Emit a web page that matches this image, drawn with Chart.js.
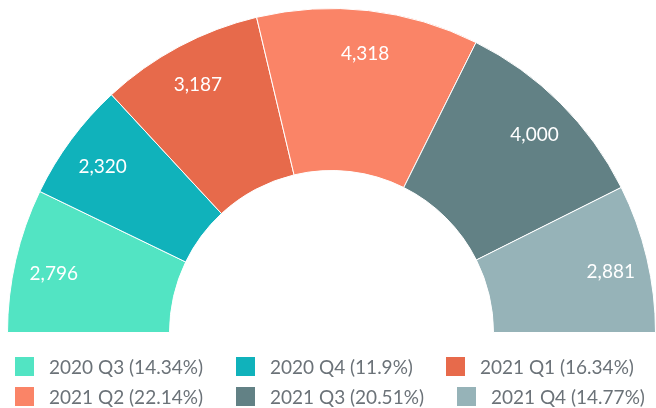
<!DOCTYPE html>
<html>
<head>
<meta charset="utf-8">
<script src="https://cdn.jsdelivr.net/npm/chart.js@4/dist/chart.umd.min.js"></script>
<style>
  html, body { margin: 0; padding: 0; background: #fff; }
  #wrap { position: relative; width: 656px; height: 408px; }
  #legend { position: absolute; left: 15px; top: 351px; width: 656px; font-family: Lato, sans-serif; font-size: 19px; color: #6b7278; }
  .row { display: flex; height: 30px; align-items: center; white-space: nowrap; }
  .item { display: inline-flex; align-items: center; margin-right: 33px; }
  .box { width: 19px; height: 19px; margin-right: 15px; flex: none; }
</style>
</head>
<body>
<div id="wrap">
  <canvas id="c" width="656" height="408"></canvas>
  <div id="legend"></div>
</div>
<script>
const categories = ['2020 Q3', '2020 Q4', '2021 Q1', '2021 Q2', '2021 Q3', '2021 Q4'];
const values = [2796, 2320, 3187, 4318, 4000, 2881];
const colors = ['#52E4C3', '#10B2BB', '#E76A4B', '#FA8467', '#628185', '#96B3B8'];

const total = values.reduce((a, b) => a + b, 0);
const pct = v => +((v / total) * 100).toFixed(2) + '%';

const labelPlugin = {
  id: 'sliceLabels',
  afterDatasetsDraw(chart) {
    const ctx = chart.ctx;
    const meta = chart.getDatasetMeta(0);
    ctx.save();
    ctx.font = '19px Lato, sans-serif';
    ctx.fillStyle = '#ffffff';
    ctx.textAlign = 'center';
    ctx.textBaseline = 'middle';
    meta.data.forEach((arc, i) => {
      const p = arc.getProps(['x', 'y', 'startAngle', 'endAngle', 'innerRadius', 'outerRadius'], true);
      const a = (p.startAngle + p.endAngle) / 2;
      const r = p.innerRadius + 0.765 * (p.outerRadius - p.innerRadius);
      ctx.fillText(values[i].toLocaleString('en-US'), p.x + Math.cos(a) * r + 1, p.y + Math.sin(a) * r + 5);
    });
    ctx.restore();
  }
};

new Chart(document.getElementById('c'), {
  type: 'doughnut',
  data: {
    labels: categories,
    datasets: [{
      data: values,
      backgroundColor: colors,
      borderColor: '#ffffff',
      borderWidth: 1,
      hoverOffset: 0
    }]
  },
  options: {
    responsive: false,
    animation: false,
    rotation: -90,
    circumference: 180,
    cutout: '50%',
    layout: { padding: { left: 7, right: 0, top: 8, bottom: 75 } },
    plugins: { legend: { display: false }, tooltip: { enabled: false } }
  },
  plugins: [labelPlugin]
});

// HTML legend built from the arrays
const legend = document.getElementById('legend');
for (let r = 0; r < categories.length; r += 3) {
  const row = document.createElement('div');
  row.className = 'row';
  for (let i = r; i < Math.min(r + 3, categories.length); i++) {
    const item = document.createElement('span');
    item.className = 'item';
    const box = document.createElement('span');
    box.className = 'box';
    box.style.background = colors[i];
    const txt = document.createElement('span');
    txt.textContent = categories[i] + ' (' + pct(values[i]) + ')';
    item.appendChild(box);
    item.appendChild(txt);
    row.appendChild(item);
  }
  legend.appendChild(row);
}
</script>
</body>
</html>
